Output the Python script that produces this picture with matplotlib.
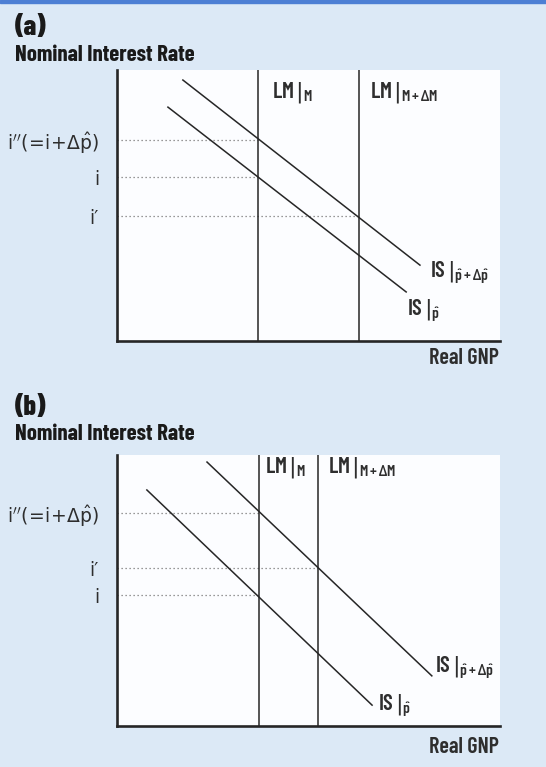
import matplotlib
matplotlib.use('Agg')
import matplotlib.pyplot as plt
from matplotlib.patches import Rectangle

plt.rcParams['font.family'] = ['Barlow Condensed', 'DejaVu Sans']
plt.rcParams['mathtext.fontset'] = 'custom'
plt.rcParams['mathtext.rm'] = 'Barlow Condensed:weight=semibold'
plt.rcParams['mathtext.it'] = 'Barlow Condensed:weight=semibold'
plt.rcParams['mathtext.bf'] = 'Barlow Condensed:weight=bold'
plt.rcParams['mathtext.sf'] = 'DejaVu Sans'
plt.rcParams['mathtext.fallback'] = 'stixsans'

# ---- data (panel a) ----
a_lm_x = [36.8, 63.2]                       # LM|M, LM|M+dM
a_is_hi_x = [17.2, 79.1]; a_is_hi_y = [96.3, 28.0]
a_is_lo_x = [13.3, 75.5]; a_is_lo_y = [86.3, 18.1]
a_levels = [74.2, 60.5, 46.1]               # i'', i, i'
a_level_ends = [36.8, 36.8, 63.2]
a_ticklabels = [r"$\mathrm{i}^{\prime\prime}(\!=\!\mathrm{i}\!+\!\Delta\hat{\mathrm{p}})$", "i", "i\u2032"]

# ---- data (panel b) ----
b_lm_x = [37.1, 52.5]
b_is_hi_x = [23.5, 82.2]; b_is_hi_y = [97.4, 18.5]
b_is_lo_x = [7.8, 66.6]; b_is_lo_y = [87.1, 7.7]
b_levels = [78.6, 58.3, 48.3]               # i'', i', i
b_level_ends = [37.1, 52.5, 37.1]
b_ticklabels = [r"$\mathrm{i}^{\prime\prime}(\!=\!\mathrm{i}\!+\!\Delta\hat{\mathrm{p}})$", "i\u2032", "i"]

bg = '#dce9f6'
ink = '#262626'
txt = '#2e2e2e'
bar = r"\,\mathsf{|}"

fig = plt.figure(figsize=(5.46, 7.67), dpi=100, facecolor=bg)
fig.patches.append(Rectangle((0, 1 - 3/767), 1, 3/767, transform=fig.transFigure,
                             color='#4d7fd4', zorder=5))


def panel(bottom, lm_x, hi_x, hi_y, lo_x, lo_y, levels, ends, ticklabels, lab):
    ax = fig.add_axes([117/546, bottom, 383/546, 271/767])
    ax.set_facecolor('#fcfdff')
    ax.set_xlim(0, 100)
    ax.set_ylim(0, 100)
    for s in ['top', 'right']:
        ax.spines[s].set_visible(False)
    for s in ['left', 'bottom']:
        ax.spines[s].set_linewidth(1.9)
        ax.spines[s].set_color(ink)
    ax.set_xticks([])
    ax.set_yticks(levels)
    ax.set_yticklabels(ticklabels, fontsize=13.5, family='DejaVu Sans',
                       math_fontfamily='dejavusans', color=txt)
    ax.tick_params(axis='y', length=0, pad=13)
    for lv, e in zip(levels, ends):
        ax.plot([0, e], [lv, lv], color='#777777', lw=0.9, ls=(0, (1, 2.2)))
    for x in lm_x:
        ax.plot([x, x], [0, 100], color=ink, lw=1.1)
    ax.plot(hi_x, hi_y, color=ink, lw=1.1)
    ax.plot(lo_x, lo_y, color=ink, lw=1.1)
    ax.text(lab['lm1'][0], lab['lm1'][1], r"$\mathrm{LM}" + bar + r"_{\mathrm{M}}$", fontsize=16, color=txt)
    ax.text(lab['lm2'][0], lab['lm2'][1], r"$\mathrm{LM}" + bar + r"_{\mathrm{M+\Delta M}}$", fontsize=16, color=txt)
    ax.text(lab['ishi'][0], lab['ishi'][1], r"$\mathrm{IS}" + bar + r"_{\hat{\mathrm{p}}+\Delta\hat{\mathrm{p}}}$", fontsize=16, color=txt)
    ax.text(lab['islo'][0], lab['islo'][1], r"$\mathrm{IS}" + bar + r"_{\hat{\mathrm{p}}}$", fontsize=16, color=txt)
    ax.text(0.997, lab['gnp'], "Real GNP", transform=ax.transAxes, ha='right', va='baseline',
            fontsize=16, fontweight='semibold', color=txt)
    return ax


panel(1 - 341/767, a_lm_x, a_is_hi_x, a_is_hi_y, a_is_lo_x, a_is_lo_y,
      a_levels, a_level_ends, a_ticklabels,
      {'lm1': (40.5, 90.0), 'lm2': (66.1, 90.0), 'ishi': (81.7, 23.6),
       'islo': (75.7, 9.6), 'gnp': -0.085})
panel(1 - 726/767, b_lm_x, b_is_hi_x, b_is_hi_y, b_is_lo_x, b_is_lo_y,
      b_levels, b_level_ends, b_ticklabels,
      {'lm1': (38.6, 93.4), 'lm2': (55.1, 93.4), 'ishi': (83.0, 19.6),
       'islo': (68.1, 5.9), 'gnp': -0.10})

# headings
fig.text(15/546, 1 - 35/767, "(a)", fontsize=20, fontweight='heavy', color='#1a1a1a')
fig.text(15/546, 1 - 61/767, "Nominal Interest Rate", fontsize=16.5, fontweight='bold', color='#1a1a1a')
fig.text(15/546, 1 - 415/767, "(b)", fontsize=20, fontweight='heavy', color='#1a1a1a')
fig.text(15/546, 1 - 440/767, "Nominal Interest Rate", fontsize=16.5, fontweight='bold', color='#1a1a1a')

fig.savefig('out.png', dpi=100, facecolor=bg)
